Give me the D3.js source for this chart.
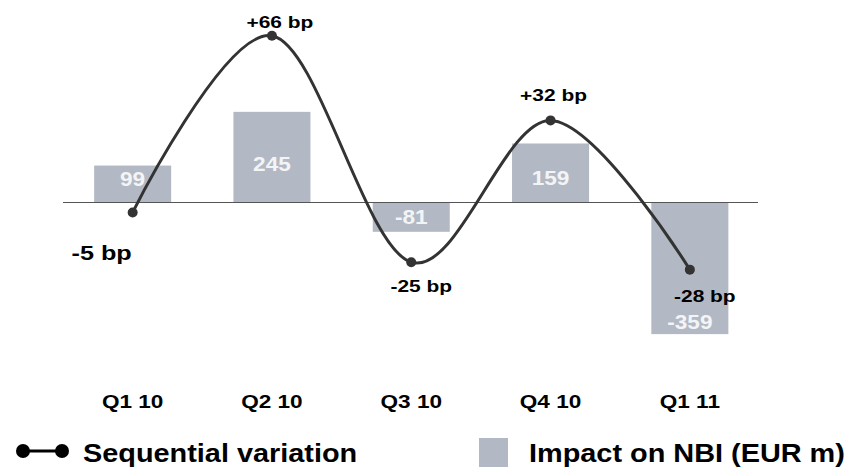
<!DOCTYPE html>
<html>
<head>
<meta charset="utf-8">
<script src="https://cdn.jsdelivr.net/npm/d3@7"></script>
<style>
  body { margin: 0; background: #fff; }
  svg text { font-family: Arial, "Liberation Sans", sans-serif; font-weight: bold; }
</style>
</head>
<body>
<div id="chart"></div>
<script>
const quarters = ['Q1 10', 'Q2 10', 'Q3 10', 'Q4 10', 'Q1 11']
const nbiImpact = [99, 245, -81, 159, -359]
const seqVariation = [-5, 66, -25, 32, -28]
const bpLabels = ['-5 bp', '+66 bp', '-25 bp', '+32 bp', '-28 bp']

// hand placed label nudges (px), as in the original slide
const bpDx = [-31, 8, 10, 3, 15]
const bpDy = [48, -8, 30, -19, 32]
const barLabelNudge = [-5, 7, 0, 5, 54]

const width = 852
const height = 467

// text in the source is a bit wider than plain Arial
function stretch(sel, k) {
    sel.each(function () {
        const w = this.getComputedTextLength()
        d3.select(this)
            .attr('textLength', w * k)
            .attr('lengthAdjust', 'spacingAndGlyphs')
    })
}

const svg = d3.select('#chart')
    .append('svg')
    .attr('width', width)
    .attr('height', height)

const x = d3.scaleBand()
    .domain(quarters)
    .range([63, 759.5])
    .paddingInner(0.447)
    .paddingOuter(0.2235)

const cx = q => x(q) + x.bandwidth() / 2

const yBar = d3.scaleLinear()
    .domain([-400, 300])
    .range([349.2, 91.6])

const yLine = d3.scaleLinear()
    .domain([-40, 80])
    .range([299.5, 1])

const barColor = '#b2b9c4'
const lineColor = '#333333'

// bars
svg.append('g')
    .selectAll('rect')
    .data(nbiImpact)
    .join('rect')
    .attr('x', (d, i) => x(quarters[i]))
    .attr('width', x.bandwidth())
    .attr('y', d => yBar(Math.max(0, d)))
    .attr('height', d => Math.abs(yBar(d) - yBar(0)))
    .attr('fill', barColor)

// zero line
svg.append('line')
    .attr('x1', x.range()[0])
    .attr('x2', x.range()[1] - 1.5)
    .attr('y1', yBar(0) + 0.5)
    .attr('y2', yBar(0) + 0.5)
    .attr('stroke', '#555')
    .attr('stroke-width', 1)

// bar values
svg.append('g')
    .selectAll('text')
    .data(nbiImpact)
    .join('text')
    .attr('x', (d, i) => cx(quarters[i]))
    .attr('y', (d, i) => (yBar(d) + yBar(0)) / 2 + barLabelNudge[i])
    .attr('dy', '0.36em')
    .attr('text-anchor', 'middle')
    .attr('font-size', 19.5)
    .attr('fill', '#f3f4f6')
    .text(d => d)
    .call(stretch, 1.16)

// sequential variation curve
const line = d3.line()
    .x((d, i) => cx(quarters[i]))
    .y(d => yLine(d))
    .curve(d3.curveCardinal.tension(0))

svg.append('path')
    .datum(seqVariation)
    .attr('d', line)
    .attr('fill', 'none')
    .attr('stroke', lineColor)
    .attr('stroke-width', 3)

svg.append('g')
    .selectAll('circle')
    .data(seqVariation)
    .join('circle')
    .attr('cx', (d, i) => cx(quarters[i]))
    .attr('cy', d => yLine(d))
    .attr('r', 5)
    .attr('fill', lineColor)

svg.append('g')
    .selectAll('text')
    .data(seqVariation)
    .join('text')
    .attr('x', (d, i) => cx(quarters[i]) + bpDx[i])
    .attr('y', (d, i) => yLine(d) + bpDy[i])
    .attr('text-anchor', 'middle')
    .attr('font-size', (d, i) => i === 0 ? 20.5 : 17)
    .attr('fill', '#000')
    .text((d, i) => bpLabels[i])
    .call(stretch, 1.23)

// category labels
svg.append('g')
    .selectAll('text')
    .data(quarters)
    .join('text')
    .attr('x', d => cx(d))
    .attr('y', 408)
    .attr('text-anchor', 'middle')
    .attr('font-size', 18.5)
    .attr('fill', '#000')
    .text(d => d)
    .call(stretch, 1.22)

// legend
const legend = svg.append('g')

legend.append('line')
    .attr('x1', 23).attr('x2', 62)
    .attr('y1', 451).attr('y2', 451)
    .attr('stroke', '#000')
    .attr('stroke-width', 3)

legend.selectAll('circle')
    .data([23, 62])
    .join('circle')
    .attr('cx', d => d)
    .attr('cy', 451)
    .attr('r', 7)
    .attr('fill', '#000')

legend.append('text')
    .attr('x', 83)
    .attr('y', 462)
    .attr('font-size', 26)
    .text('Sequential variation')
    .call(stretch, 1.11)

legend.append('rect')
    .attr('x', 479)
    .attr('y', 438)
    .attr('width', 29)
    .attr('height', 29)
    .attr('fill', barColor)

legend.append('text')
    .attr('x', 529)
    .attr('y', 462)
    .attr('font-size', 26)
    .text('Impact on NBI (EUR m)')
    .call(stretch, 1.11)
</script>
</body>
</html>
